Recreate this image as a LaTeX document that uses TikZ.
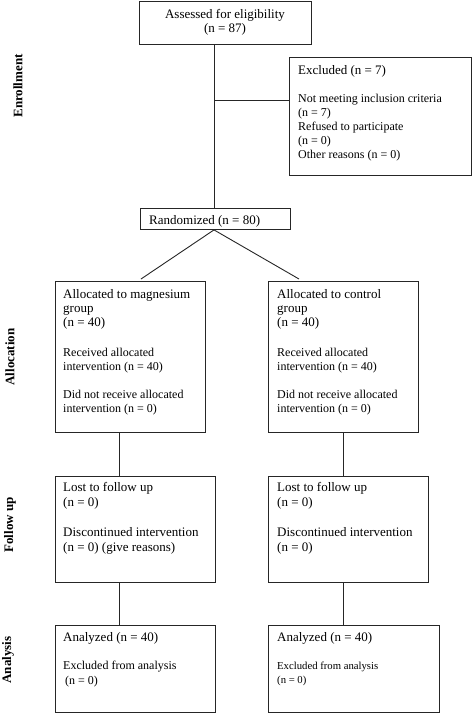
\documentclass[tikz,border=0pt]{standalone}
\usepackage{fontspec}
\setmainfont{Liberation Serif}
\usetikzlibrary{calc}
% width, size, baselineskip, text
\newcommand{\bxt}[4]{\parbox[t]{#1}{\raggedright\fontsize{#2}{#3}\selectfont #4}}
\newcommand{\sz}[1]{\fontsize{#1}{14}\selectfont}
\tikzset{
  box/.style={draw=black!85, line width=0.9pt, anchor=north west, inner sep=0pt},
  txt/.style={anchor=base west, inner sep=0pt},
  phase/.style={rotate=90, font=\fontsize{13}{15}\selectfont\bfseries, inner sep=0pt},
  conn/.style={draw=black!85, line width=0.9pt}
}
\begin{document}
\begin{tikzpicture}[x=1pt,y=-1pt]
\useasboundingbox (0,0) rectangle (472,713);
% boxes
\node[box, minimum width=172pt, minimum height=43pt] (assess) at (139,1) {};
\node[box, minimum width=182pt, minimum height=118pt] (excl) at (289,57) {};
\node[box, minimum width=150pt, minimum height=21pt] (rand) at (140,208) {};
\node[box, minimum width=150pt, minimum height=151pt] (allocL) at (55,281) {};
\node[box, minimum width=150pt, minimum height=151pt] (allocR) at (268,281) {};
\node[box, minimum width=160pt, minimum height=106pt] (fuL) at (55,476) {};
\node[box, minimum width=160pt, minimum height=106pt] (fuR) at (268,476) {};
\node[box, minimum width=160pt, minimum height=87pt] (anL) at (55,625) {};
\node[box, minimum width=171pt, minimum height=87pt] (anR) at (268,625) {};
% texts
\node[anchor=base, inner sep=0pt] (assessT) at (225,18.3) {\parbox[t]{160pt}{\centering\fontsize{13}{14.4}\selectfont Assessed for eligibility\\(n = 87)}};
\node[txt] (exclT) at (298,74) {\bxt{170pt}{13}{14}{Excluded (n = 7)\\[14pt]{\sz{12}Not meeting inclusion criteria\\(n = 7)\\Refused to participate\\(n = 0)\\Other reasons (n = 0)}}};
\node[txt, font=\fontsize{13}{14}\selectfont] (randT) at (149,224.3) {Randomized (n = 80)};
\node[txt] (allocLT) at (63,298.3) {\bxt{140pt}{13}{14}{Allocated to magnesium\\group\\(n = 40)\\[16pt]{\sz{12}Received allocated\\intervention (n = 40)\\[14pt]Did not receive allocated\\intervention (n = 0)}}};
\node[txt] (allocRT) at (277,298.3) {\bxt{140pt}{13}{14}{Allocated to control\\group\\(n = 40)\\[16pt]{\sz{12}Received allocated\\intervention (n = 40)\\[14pt]Did not receive allocated\\intervention (n = 0)}}};
\node[txt] (fuLT) at (63,491) {\bxt{150pt}{13}{15}{Lost to follow up\\(n = 0)\\[15pt]Discontinued intervention\\(n = 0) (give reasons)}};
\node[txt] (fuRT) at (277,491) {\bxt{150pt}{13}{15}{Lost to follow up\\(n = 0)\\[15pt]Discontinued intervention\\(n = 0)}};
\node[txt] (anLT) at (63,641.7) {\bxt{150pt}{13}{14.5}{Analyzed (n = 40)\\[14pt]{\sz{12}Excluded from analysis\\\hspace*{2pt}(n = 0)}}};
\node[txt] (anRT) at (277,641.7) {\bxt{160pt}{13}{13.7}{Analyzed (n = 40)\\[13.6pt]{\sz{10.7}Excluded from analysis\\(n = 0)}}};
% phase labels
\node[phase] (ph1) at (18,86) {Enrollment};
\node[phase] (ph2) at (10,357) {Allocation};
\node[phase] (ph3) at (10,525) {Follow up};
\node[phase] (ph4) at (8,660) {Analysis};
% connector coordinates
\coordinate (spine) at (214,0);
\coordinate (brk) at (214,100);
\coordinate (dL) at (141,279);
\coordinate (dR) at (299,279);
\coordinate (colL) at (119,0);
\coordinate (colR) at (343,0);
% connectors
\draw[conn] (assess.south -| spine) -- (rand.north -| spine);
\draw[conn] (brk) -- (excl.west |- brk);
\draw[conn] (rand.south -| spine) -- (dL);
\draw[conn] (rand.south -| spine) -- (dR);
\draw[conn] (allocL.south -| colL) -- (fuL.north -| colL);
\draw[conn] (allocR.south -| colR) -- (fuR.north -| colR);
\draw[conn] (fuL.south -| colL) -- (anL.north -| colL);
\draw[conn] (fuR.south -| colR) -- (anR.north -| colR);
\end{tikzpicture}
\end{document}
